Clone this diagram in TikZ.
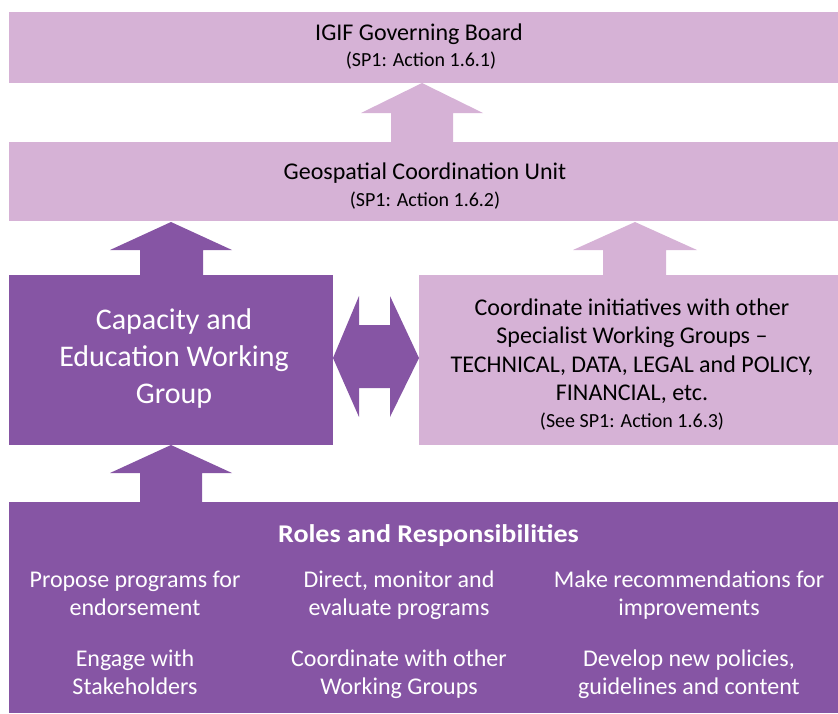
\documentclass[tikz,border=0pt]{standalone}
\usepackage{graphicx}
\usepackage{fontspec}
\setmainfont{Carlito}
\definecolor{lightp}{RGB}{214,178,214}
\definecolor{darkp}{RGB}{134,85,164}
\begin{document}
\begin{tikzpicture}[x=1pt,y=-1pt,
  lbox/.style={fill=lightp,draw=none,inner sep=0pt},
  dbox/.style={fill=darkp,draw=none,inner sep=0pt},
  big/.style={anchor=base,inner sep=0pt,align=center,font=\fontsize{24}{28.5}\selectfont},
  small/.style={anchor=base,inner sep=0pt,font=\fontsize{20}{24}\selectfont},
  itm/.style={anchor=base,align=center,text=white,font=\fontsize{24}{28}\selectfont,inner sep=0pt}]
\useasboundingbox (0,0) rectangle (838,713);
% boxes
\node[lbox,minimum width=829pt,minimum height=71pt] (gb) at (423.5,47.5) {};
\node[lbox,minimum width=829pt,minimum height=79pt] (gcu) at (423.5,181.5) {};
\node[dbox,minimum width=324pt,minimum height=170pt] (cewg) at (171,360) {};
\node[lbox,minimum width=419pt,minimum height=170pt] (coord) at (628.5,360) {};
\node[dbox,minimum width=829pt,minimum height=211pt] (roles) at (423.5,607.5) {};
% block arrows
\fill[lightp] (422,83) -- (483,113) -- (453,113) -- (453,142) -- (391,142) -- (391,113) -- (361,113) -- cycle;
\fill[darkp] (171,222) -- (232,250) -- (203,250) -- (203,275) -- (140,275) -- (140,250) -- (110,250) -- cycle;
\fill[lightp] (635,222) -- (697,250) -- (666,250) -- (666,275) -- (603,275) -- (603,250) -- (573,250) -- cycle;
\fill[darkp] (171,445) -- (232,473) -- (202,473) -- (202,502) -- (140,502) -- (140,473) -- (110,473) -- cycle;
\fill[darkp] (333,358) -- (359,296) -- (359,325) -- (390,325) -- (390,296) -- (419,358) -- (390,417) -- (390,388) -- (359,388) -- (359,417) -- cycle;
% texts
\node[big] (gbt) at (419,40) {IGIF Governing Board};
\node[small] (gbs) at (421,66.5) {(SP1: Action 1.6.1)};
\node[big] (gcut) at (425,179) {Geospatial Coordination Unit};
\node[small] (gcus) at (425,206) {(SP1: Action 1.6.2)};
\node[anchor=base,inner sep=0pt,align=center,text=white,font=\fontsize{30}{37}\selectfont] (cewgt) at (174,403.5)
  {Capacity and\\Education Working\\Group};
\node[big] (ct) at (632,400.5)
  {Coordinate initiatives with other\\Specialist Working Groups --\\TECHNICAL, DATA, LEGAL and POLICY,\\FINANCIAL, etc.};
\node[small] (cs) at (632,427) {(See SP1: Action 1.6.3)};
\node[anchor=base,inner sep=0pt,text=white,font=\bfseries\fontsize{25.5}{30}\selectfont] (rt) at (428.5,542)
  {\scalebox{1.1}[1]{Roles and Responsibilities}};
\node[itm] (r1) at (135,615) {Propose programs for\\endorsement};
\node[itm] (r2) at (399,615) {Direct, monitor and\\evaluate programs};
\node[itm] (r3) at (689,615) {Make recommendations for\\improvements};
\node[itm] (r4) at (135,694) {Engage with\\Stakeholders};
\node[itm] (r5) at (399,694) {Coordinate with other\\Working Groups};
\node[itm] (r6) at (689,694) {Develop new policies,\\guidelines and content};
\end{tikzpicture}
\end{document}
